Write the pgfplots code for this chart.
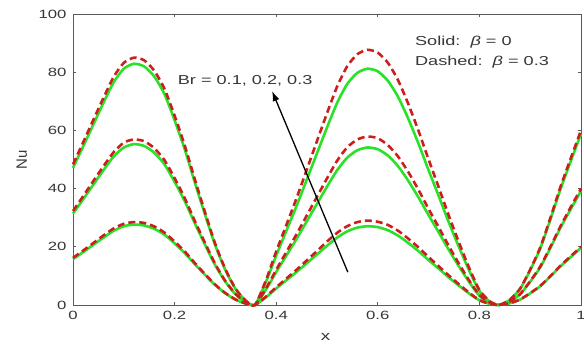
\documentclass[border=0pt]{standalone}
\usepackage{pgfplots}
\pgfplotsset{compat=1.18}
\usetikzlibrary{arrows.meta}
\usepackage{fontspec}
\setmainfont{Liberation Sans}
\newfontfamily\wf[FakeStretch=1.4]{Liberation Sans}
\definecolor{lgreen}{RGB}{40,225,40}
\definecolor{dred}{RGB}{205,30,30}
\definecolor{axgray}{RGB}{90,90,90}
\definecolor{txtgray}{RGB}{55,55,55}
\begin{document}
\begin{tikzpicture}
\begin{axis}[
  scale only axis, width=508bp, height=291bp,
  xmin=0, xmax=1, ymin=0, ymax=100,
  xtick={0,0.2,0.4,0.6,0.8,1}, ytick={0,20,40,60,80,100},
  xticklabels={0,0.2,0.4,0.6,0.8,1},
  /pgf/number format/assume math mode=true,
  tick label style={font=\wf\fontsize{12}{14}\selectfont, text=txtgray},
  xticklabel style={yshift=-3bp},
  yticklabel style={xshift=-3bp},
  axis line style={axgray, line width=1pt},
  tick style={axgray, line width=1pt},
  major tick length=3bp,
  xlabel={x}, ylabel={Nu},
  xlabel style={font=\wf\fontsize{13.5}{15}\selectfont, text=txtgray, at={(axis description cs:0.497,-0.11)}, anchor=center},
  ylabel style={font=\fontsize{15}{17}\selectfont, text=txtgray, at={(axis description cs:-0.101,0.498)}, anchor=center, rotate=0},
  clip=false,
]
\coordinate (O) at (rel axis cs:0,0);
% solid, Br = 0.1
\addplot[lgreen, line width=2.6pt, smooth, tension=0.4] coordinates {
(0,15.7)(0.02,18.17)(0.04,20.67)(0.06,23.17)(0.08,25.5)(0.10,27.07)(0.12,27.63)(0.14,27.33)(0.16,26.17)(0.18,24.17)(0.20,21.17)(0.22,17.83)(0.24,14)(0.26,10.33)(0.28,6.83)(0.30,4)(0.32,1.83)(0.34,0.5)(0.358,0)
(0.38,2.67)(0.40,5.67)(0.42,8.5)(0.44,11.33)(0.46,14.33)(0.48,17.33)(0.50,20.33)(0.52,23.17)(0.54,25.33)(0.56,26.6)(0.58,27.07)(0.60,26.77)(0.62,25.67)(0.64,23.83)(0.66,21.33)(0.68,18.5)(0.70,15.43)(0.72,12.47)(0.74,9.43)(0.76,6.6)(0.78,3.93)(0.80,1.6)(0.82,0.4)(0.837,0)
(0.85,0.27)(0.86,0.6)(0.88,1.83)(0.90,4)(0.92,6.5)(0.94,9.83)(0.96,13.33)(0.98,16.5)(1.00,19.6)};
% solid, Br = 0.2
\addplot[lgreen, line width=2.6pt, smooth, tension=0.4] coordinates {
(0,31.4)(0.02,36.33)(0.04,41.33)(0.06,46.33)(0.08,51)(0.10,54.13)(0.12,55.27)(0.14,54.67)(0.16,52.33)(0.18,48.33)(0.20,42.33)(0.22,35.67)(0.24,28)(0.26,20.67)(0.28,13.67)(0.30,8)(0.32,3.67)(0.34,1)(0.358,0)
(0.38,5.33)(0.40,11.33)(0.42,17)(0.44,22.67)(0.46,28.67)(0.48,34.67)(0.50,40.67)(0.52,46.33)(0.54,50.67)(0.56,53.2)(0.58,54.13)(0.60,53.53)(0.62,51.33)(0.64,47.67)(0.66,42.67)(0.68,37)(0.70,30.87)(0.72,24.93)(0.74,18.87)(0.76,13.2)(0.78,7.87)(0.80,3.2)(0.82,0.8)(0.837,0)
(0.85,0.53)(0.86,1.2)(0.88,3.67)(0.90,8)(0.92,13)(0.94,19.67)(0.96,26.67)(0.98,33)(1.00,39.2)};
% solid, Br = 0.3
\addplot[lgreen, line width=2.6pt, smooth, tension=0.4] coordinates {
(0,47.1)(0.02,54.5)(0.04,62)(0.06,69.5)(0.08,76.5)(0.10,81.2)(0.12,82.9)(0.14,82)(0.16,78.5)(0.18,72.5)(0.20,63.5)(0.22,53.5)(0.24,42)(0.26,31)(0.28,20.5)(0.30,12)(0.32,5.5)(0.34,1.5)(0.358,0)
(0.38,8)(0.40,17)(0.42,25.5)(0.44,34)(0.46,43)(0.48,52)(0.50,61)(0.52,69.5)(0.54,76)(0.56,79.8)(0.58,81.2)(0.60,80.3)(0.62,77)(0.64,71.5)(0.66,64)(0.68,55.5)(0.70,46.3)(0.72,37.4)(0.74,28.3)(0.76,19.8)(0.78,11.8)(0.80,4.8)(0.82,1.2)(0.837,0)
(0.85,0.8)(0.86,1.8)(0.88,5.5)(0.90,12)(0.92,19.5)(0.94,29.5)(0.96,40)(0.98,49.5)(1.00,58.8)};
% dashed, Br = 0.1
\addplot[dred, line width=2.6pt, dash pattern=on 7bp off 4bp, smooth, tension=0.4] coordinates {
(0,16.2)(0.02,18.7)(0.04,21.3)(0.06,23.9)(0.08,26.3)(0.10,27.9)(0.12,28.5)(0.14,28.2)(0.16,27.0)(0.18,24.9)(0.20,21.8)(0.22,18.4)(0.24,14.4)(0.26,10.6)(0.28,7.0)(0.30,4.1)(0.32,1.9)(0.34,0.5)(0.358,0)
(0.38,2.9)(0.40,6.1)(0.42,9.1)(0.44,12.1)(0.46,15.3)(0.48,18.5)(0.50,21.8)(0.52,24.8)(0.54,27.1)(0.56,28.5)(0.58,29.0)(0.60,28.6)(0.62,27.5)(0.64,25.5)(0.66,22.8)(0.68,19.8)(0.70,16.5)(0.72,13.3)(0.74,10.1)(0.76,7.1)(0.78,4.2)(0.80,1.7)(0.82,0.4)(0.837,0)
(0.85,0.3)(0.86,0.6)(0.88,1.9)(0.90,4.1)(0.92,6.6)(0.94,10.0)(0.96,13.6)(0.98,16.8)(1.00,20.0)};
% dashed, Br = 0.2
\addplot[dred, line width=2.6pt, dash pattern=on 7bp off 4bp, smooth, tension=0.4] coordinates {
(0,32.3)(0.02,37.4)(0.04,42.6)(0.06,47.7)(0.08,52.5)(0.10,55.8)(0.12,56.9)(0.14,56.3)(0.16,53.9)(0.18,49.8)(0.20,43.6)(0.22,36.7)(0.24,28.8)(0.26,21.3)(0.28,14.1)(0.30,8.2)(0.32,3.8)(0.34,1.0)(0.358,0)
(0.38,5.7)(0.40,12.1)(0.42,18.2)(0.44,24.3)(0.46,30.7)(0.48,37.1)(0.50,43.5)(0.52,49.6)(0.54,54.2)(0.56,56.9)(0.58,57.9)(0.60,57.3)(0.62,54.9)(0.64,51.0)(0.66,45.7)(0.68,39.6)(0.70,33.0)(0.72,26.7)(0.74,20.2)(0.76,14.1)(0.78,8.4)(0.80,3.4)(0.82,0.9)(0.837,0)
(0.85,0.5)(0.86,1.2)(0.88,3.7)(0.90,8.2)(0.92,13.3)(0.94,20.1)(0.96,27.2)(0.98,33.7)(1.00,40.0)};
% dashed, Br = 0.3
\addplot[dred, line width=2.6pt, dash pattern=on 7bp off 4bp, smooth, tension=0.4] coordinates {
(0,48.3)(0.02,55.9)(0.04,63.6)(0.06,71.2)(0.08,78.4)(0.10,83.2)(0.12,85.0)(0.14,84.1)(0.16,80.5)(0.18,74.3)(0.20,65.1)(0.22,54.8)(0.24,43.1)(0.26,31.8)(0.28,21.0)(0.30,12.3)(0.32,5.6)(0.34,1.5)(0.358,0)
(0.38,8.6)(0.40,18.4)(0.42,27.5)(0.44,36.7)(0.46,46.4)(0.48,56.2)(0.50,65.9)(0.52,75.1)(0.54,82.1)(0.56,86.2)(0.58,87.7)(0.60,86.7)(0.62,83.2)(0.64,77.2)(0.66,69.1)(0.68,59.9)(0.70,50.0)(0.72,40.4)(0.74,30.6)(0.76,21.4)(0.78,12.7)(0.80,5.2)(0.82,1.3)(0.837,0)
(0.85,0.8)(0.86,1.8)(0.88,5.6)(0.90,12.2)(0.92,19.9)(0.94,30.1)(0.96,40.8)(0.98,50.5)(1.00,60.0)};
\draw[-{Latex[length=10bp,width=7bp]}, black, line width=1.3pt] (axis cs:0.541,11.3) -- (axis cs:0.392,73.5);
\node[font=\wf\fontsize{13}{15}\selectfont, text=txtgray, anchor=west, inner sep=0pt] at (axis cs:0.206,77.2) {Br = 0.1, 0.2, 0.3};
\node[font=\wf\fontsize{13}{15}\selectfont, text=txtgray, anchor=west, inner sep=0pt] at (axis cs:0.673,90.4) {Solid:\ \ {\itshape β} = 0};
\node[font=\wf\fontsize{13}{15}\selectfont, text=txtgray, anchor=west, inner sep=0pt] at (axis cs:0.673,83.5) {Dashed:\ \ {\itshape β} = 0.3};
\end{axis}
\pgfresetboundingbox
\path[use as bounding box] (O) ++(-73bp,-42bp) rectangle ++(584bp,347bp);
\end{tikzpicture}
\end{document}
